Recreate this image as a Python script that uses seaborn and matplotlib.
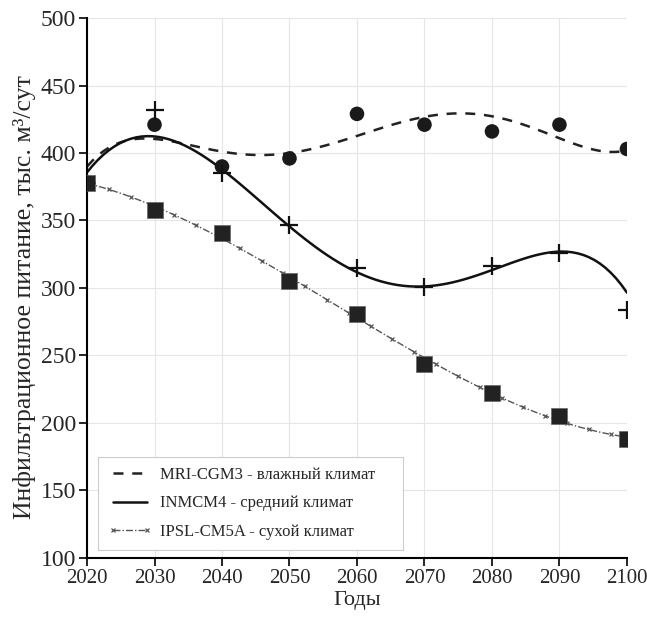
import numpy as np
import pandas as pd
import matplotlib
matplotlib.use("Agg")
import matplotlib.pyplot as plt
import seaborn as sns

# data
years = [2020, 2030, 2040, 2050, 2060, 2070, 2080, 2090, 2100]
mri = [378, 421, 390, 396, 429, 421, 416, 421, 403]      # влажный климат
inmcm = [378, 432, 385, 347, 315, 301, 316, 326, 284]    # средний климат
ipsl = [378, 358, 341, 305, 281, 244, 222, 205, 188]     # сухой климат

# trend curves as drawn in the reference (read at each decade)
mri_trend = [390, 410, 402, 399, 413, 427, 427, 411, 402]
inmcm_trend = [386, 411, 389, 347, 309, 301, 316, 325, 297]

labels = ["MRI-CGM3 - влажный климат",
          "INMCM4 - средний климат",
          "IPSL-CM5A - сухой климат"]

df = pd.DataFrame({"year": years, "mri": mri, "inmcm": inmcm, "ipsl": ipsl,
                   "mri_trend": mri_trend, "inmcm_trend": inmcm_trend})

sns.set_style("whitegrid", {"grid.color": "#e6e6e6", "axes.edgecolor": "black"})
plt.rcParams["font.family"] = ["Liberation Serif", "DejaVu Serif"]

fig = plt.figure(figsize=(6.47, 6.22), dpi=100)
ax = fig.add_axes([0.1345, 0.103, 0.8345, 0.868])

# trend lines
sns.regplot(data=df, x="year", y="mri_trend", order=5, ci=None, scatter=False, ax=ax,
            label=labels[0],
            line_kws=dict(color="#222222", lw=1.8, ls=(0, (4, 3.5))))
sns.regplot(data=df, x="year", y="inmcm_trend", order=5, ci=None, scatter=False, ax=ax,
            label=labels[1],
            line_kws=dict(color="#111111", lw=1.8, ls="-"))
sns.regplot(data=df, x="year", y="ipsl", order=3, ci=None, scatter=False, ax=ax,
            label=labels[2],
            line_kws=dict(color="#555555", lw=1.0, ls=(0, (5, 1.5, 1, 1.5)),
                          marker="x", ms=3.5, mew=0.9, markevery=4))

# measured points
sns.scatterplot(data=df, x="year", y="mri", marker="o", s=110, color="#1a1a1a",
                edgecolor="none", ax=ax, zorder=4)
sns.scatterplot(data=df, x="year", y="inmcm", marker="+", s=160, color="#111111",
                linewidth=1.6, ax=ax, zorder=4)
sns.scatterplot(data=df, x="year", y="ipsl", marker="s", s=140, color="#222222",
                edgecolor="#666666", linewidth=0.5, ax=ax, zorder=5)

ax.set_xlim(2020, 2100)
ax.set_ylim(100, 500)
ax.set_xticks(range(2020, 2101, 10))
ax.set_yticks(range(100, 501, 50))
ax.tick_params(axis="x", labelsize=15)
ax.tick_params(axis="y", labelsize=17)
ax.tick_params(axis="both", length=6, width=1.2, color="black",
               direction="out", bottom=True, left=True, pad=2)
for s in ["top", "right"]:
    ax.spines[s].set_visible(False)
for s in ["left", "bottom"]:
    ax.spines[s].set_linewidth(1.5)
ax.set_xlabel("Годы", fontsize=16, labelpad=2)
ax.set_ylabel("Инфильтрационное питание, тыс. м³/сут", fontsize=18.5)
ax.yaxis.set_label_coords(-0.095, 0.484)

leg = ax.legend(loc="lower left", bbox_to_anchor=(0.02, 0.015, 0.565, 0.2),
                mode="expand", borderaxespad=0,
                fontsize=12, frameon=True, fancybox=False, edgecolor="#cccccc",
                framealpha=1, handlelength=2.65, handletextpad=0.5, numpoints=2,
                labelspacing=0.75, borderpad=0.6)
leg.get_frame().set_linewidth(0.8)

fig.savefig("out.png", dpi=100)
